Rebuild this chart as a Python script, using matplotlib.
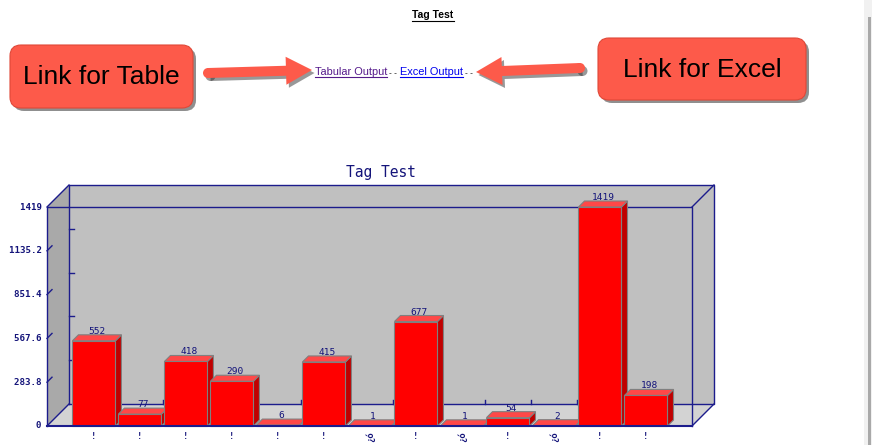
import matplotlib
matplotlib.use("Agg")
import matplotlib.pyplot as plt
from matplotlib.patches import Polygon, FancyBboxPatch, FancyArrow, Rectangle
from matplotlib.transforms import IdentityTransform

# chart data
values = [552, 77, 418, 290, 6, 415, 1, 677, 1, 54, 2, 1419, 198]
xlabels = ["!", "!", "!", "!", "!", "!", "¿ó", "!", "¿ó", "!", "¿ó", "!", "!"]
yticks = [0, 283.8, 567.6, 851.4, 1135.2, 1419]
ytick_labels = ["0", "283.8", "567.6", "851.4", "1135.2", "1419"]
chart_title = "Tag Test"
page_title = "Tag Test"
link_texts = ["Tabular Output", "Excel Output"]
callouts = ["Link for Table", "Link for Excel"]

NAVY = "#1c1c8c"
TXT = "#14147a"
RED = "#ff0000"
RED_TOP = "#ff4848"
RED_SIDE = "#c00000"
CALLOUT = "#fd5a4a"

W, H = 872, 445
fig = plt.figure(figsize=(W / 100, H / 100), dpi=100)
fig.patch.set_facecolor("white")

# page overlay in pixel coords
page = fig.add_axes([0, 0, 1, 1])
page.set_xlim(0, W)
page.set_ylim(H, 0)
page.axis("off")

# scrollbar on the right
page.add_patch(Rectangle((864, 0), 8, H, color="#f1f1f1", lw=0))
page.add_patch(Rectangle((867.5, 17), 3, H, color="#a9a9a9", lw=0))

# header
hdr = page.text(433, 15, page_title, ha="center", va="center", fontsize=7.5,
                fontweight="bold", family="Liberation Sans", color="black")

# callout boxes
def callout(x0, y0, x1, y1, label):
    sh = FancyBboxPatch((x0 + 3, y0 + 3), x1 - x0, y1 - y0,
                        boxstyle="round,pad=0,rounding_size=11",
                        fc="#333333", ec="none", alpha=0.55)
    page.add_patch(sh)
    bx = FancyBboxPatch((x0, y0), x1 - x0, y1 - y0,
                        boxstyle="round,pad=0,rounding_size=11",
                        fc=CALLOUT, ec="#e04838", lw=0.8)
    page.add_patch(bx)
    page.text((x0 + x1) / 2, (y0 + y1) / 2 + 1, label, ha="center", va="center",
              fontsize=19, family="Liberation Sans", color="black")

callout(10, 45, 193, 108, callouts[0])
callout(598, 38, 806, 100, callouts[1])

# arrows
def arrow(x0, y0, x1, y1):
    for off, col, a in [((2.5, 3), "#333333", 0.5), ((0, 0), CALLOUT, 1)]:
        ar = FancyArrow(x0 + off[0], y0 + off[1], x1 - x0, y1 - y0, width=10,
                        head_width=28, head_length=26, length_includes_head=True,
                        fc=col, ec="none", alpha=a, joinstyle="round")
        page.add_patch(ar)
        page.add_patch(plt.Circle((x0 + off[0], y0 + off[1]), 5, fc=col,
                                  ec="none", alpha=a))

arrow(208, 73, 312, 70)
arrow(580, 68, 476, 72)

# links with underline
fig.canvas.draw()
renderer = fig.canvas.get_renderer()
inv = page.transData.inverted()

def underline(t, y):
    bb = t.get_window_extent(renderer)
    xa = inv.transform((bb.x0, 0))[0]
    xb = inv.transform((bb.x1, 0))[0]
    page.plot([xa, xb], [y, y], color=t.get_color(), lw=0.8)
    return xb

underline(hdr, 20.5)
x = 315
t1 = page.text(x, 75, link_texts[0], ha="left", va="baseline", fontsize=7.9,
               family="Liberation Sans", color="#551a8b")
x = underline(t1, 76.5)
sep = page.text(x + 2, 75, "- -", ha="left", va="baseline", fontsize=6,
                family="Liberation Sans", color="black")
bb = sep.get_window_extent(renderer)
x = inv.transform((bb.x1, 0))[0] + 3
t2 = page.text(x, 75, link_texts[1], ha="left", va="baseline", fontsize=7.9,
               family="Liberation Sans", color="#0000ee")
x = underline(t2, 76.5)
page.text(x + 2, 75, "- -", ha="left", va="baseline", fontsize=6,
          family="Liberation Sans", color="black")

# chart axes = front plane of the 3d box
FL, FR, FB, FT = 47, 692, 426, 207
ax = fig.add_axes([FL / W, (H - FB) / H, (FR - FL) / W, (FB - FT) / H])
ax.set_xlim(-1.02, len(values))
ax.set_ylim(0, max(yticks))
ax.axis("off")
ax.patch.set_alpha(0)

DEPTH = 22
BAR_D = 6
bw = 43 / 46
xmin, xmax = ax.get_xlim()
ymax = max(yticks)

def pt(xv, yv, d=0):
    px, py = ax.transData.transform((xv, yv))
    return (px + d, py + d)

def poly(pts, **kw):
    p = Polygon(pts, closed=True, transform=IdentityTransform(), clip_on=False, **kw)
    ax.add_patch(p)

def line(pts, **kw):
    xs = [p[0] for p in pts]
    ys = [p[1] for p in pts]
    ax.add_line(plt.Line2D(xs, ys, transform=IdentityTransform(), clip_on=False, **kw))

# walls and floor
poly([pt(xmin, 0, DEPTH), pt(xmax, 0, DEPTH), pt(xmax, ymax, DEPTH), pt(xmin, ymax, DEPTH)],
     fc="#c0c0c0", ec="none", zorder=1)
poly([pt(xmin, 0), pt(xmin, ymax), pt(xmin, ymax, DEPTH), pt(xmin, 0, DEPTH)],
     fc="#a9a9a9", ec="none", zorder=1)
poly([pt(xmin, 0), pt(xmin, 0, DEPTH), pt(xmax, 0, DEPTH), pt(xmax, 0)],
     fc="#d3d3d3", ec="none", zorder=1)

# back frame and diagonals
line([pt(xmin, 0, DEPTH), pt(xmax, 0, DEPTH), pt(xmax, ymax, DEPTH),
      pt(xmin, ymax, DEPTH), pt(xmin, 0, DEPTH)], color=NAVY, lw=1, zorder=2)
for xv in (xmin, xmax):
    for yv in (0, ymax):
        line([pt(xv, yv), pt(xv, yv, DEPTH)], color=NAVY, lw=1, zorder=2)
# front frame (behind bars)
line([pt(xmin, 0), pt(xmin, ymax), pt(xmax, ymax), pt(xmax, 0)], color=NAVY, lw=1, zorder=2)

# y ticks: diagonal on front edge, short tick on back wall
for yv, lab in zip(yticks, ytick_labels):
    if 0 < yv < ymax:
        line([pt(xmin, yv), pt(xmin, yv, 5)], color=NAVY, lw=1, zorder=2)
        a = pt(xmin, yv, DEPTH)
        line([a, (a[0] + 5, a[1])], color=NAVY, lw=1, zorder=2)
    ax.text(xmin, yv, lab + " ", ha="right", va="center", fontsize=6.6,
            family="DejaVu Sans Mono", color=TXT, fontweight="bold")

# x ticks on back floor line at slot boundaries
for i in range(len(values) - 1):
    a = pt(i + 0.5, 0)
    line([(a[0], a[1] + DEPTH), (a[0], a[1] + DEPTH + 4)], color=NAVY, lw=1, zorder=2)

# bars
z = 3
for i, v in enumerate(values):
    l, r = i - bw / 2, i + bw / 2
    poly([pt(r, 0), pt(r, v), pt(r, v, BAR_D), pt(r, 0, BAR_D)],
         fc=RED_SIDE, ec="#808080", lw=0.8, zorder=z)
    poly([pt(l, v), pt(r, v), pt(r, v, BAR_D), pt(l, v, BAR_D)],
         fc=RED_TOP, ec="#808080", lw=0.8, zorder=z)
    ax.bar(i, v, width=bw, color=RED, edgecolor="#808080", linewidth=0.8,
           zorder=z + 0.5, clip_on=False)
    tx, ty = pt(i, v, BAR_D)
    ax.text(tx - 3, ty - 1, str(v), ha="center", va="bottom", fontsize=6.8,
            family="DejaVu Sans Mono", color=TXT, transform=IdentityTransform(),
            zorder=10)
    z += 1

# front bottom line on top
line([pt(xmin, 0), pt(xmax, 0)], color=NAVY, lw=1.5, zorder=50)

# x labels
for i, lab in enumerate(xlabels):
    bx, by = pt(i, 0)
    if lab == "!":
        ax.text(bx, by - 6, lab, ha="center", va="top", fontsize=6.5,
                family="DejaVu Sans Mono", color=TXT, fontweight="bold",
                transform=IdentityTransform())
    else:
        ax.text(bx, by - 5, lab, ha="center", va="top", fontsize=6.5, rotation=90,
                family="DejaVu Sans Mono", color=TXT, fontweight="bold",
                transform=IdentityTransform())

# chart title
cx = (pt(xmin, 0)[0] + pt(xmax, 0, DEPTH)[0]) / 2
ty = pt(xmin, ymax, DEPTH)[1]
ax.text(cx, ty + 13, chart_title, ha="center", va="center", fontsize=10.5,
        family="DejaVu Sans Mono", color=TXT, transform=IdentityTransform())

fig.savefig("out.png", dpi=100)
